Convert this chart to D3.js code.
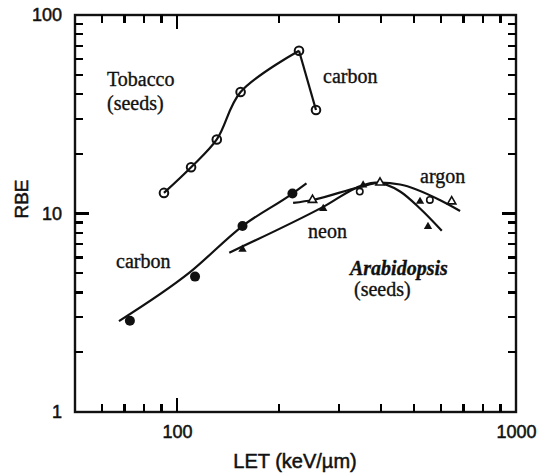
<!DOCTYPE html>
<html>
<head>
<meta charset="utf-8">
<script src="https://cdn.jsdelivr.net/npm/d3@7"></script>
<style>
  body { margin: 0; background: #fff; }
  .tick text { font-family: "Liberation Sans", Arial, sans-serif; font-size: 18px; fill: #111; stroke: #111; stroke-width: 0.5px; }
  .lbl { font-family: "Liberation Serif", "Times New Roman", serif; font-size: 20px; fill: #111; stroke: #111; stroke-width: 0.35px; }
</style>
</head>
<body>
<div id="chart"></div>
<script>
// values (LET in keV/um, RBE)
const tobaccoX = [91.5, 110, 131, 154, 229, 257];
const tobaccoY = [12.7, 17.1, 23.6, 40.9, 66.1, 33.2];

const carbonX = [72.6, 113, 156, 219];
const carbonY = [2.88, 4.81, 8.65, 12.6];
const carbonFitX = [67.4, 109, 156, 219, 241];
const carbonFitY = [2.87, 5.05, 8.65, 12.6, 14.2];

const neonX = [156, 270, 354, 521, 550];
const neonY = [6.6, 10.6, 13.9, 11.5, 8.6];
const neonFitX = [142.6, 270, 354, 384, 455, 521, 604];
const neonFitY = [6.35, 10.8, 13.9, 14.3, 12.9, 10.6, 8.19];

const argonX = [251, 397, 646];
const argonY = [11.7, 14.3, 11.5];
const argonOpenX = [346, 557];
const argonOpenY = [12.9, 11.7];
const argonFitX = [220, 251, 346, 397, 455, 596, 684];
const argonFitY = [11.3, 11.7, 13.6, 14.3, 14.0, 11.7, 10.3];

const xTicks = [60, 70, 80, 90, 100, 200, 300, 400, 500, 600, 700, 800, 900];
const yTicks = [2, 3, 4, 5, 6, 7, 8, 9, 10, 20, 30, 40, 50, 60, 70, 80, 90];
const majorTicks = [1, 10, 100, 1000];

const w = 540, h = 473;
const padL = 75, padR = 516, padT = 15, padB = 412;

const svg = d3.select("#chart").append("svg")
  .attr("width", w)
  .attr("height", h);

const x = d3.scaleLog().domain([50, 1000]).range([padL, padR]);
const y = d3.scaleLog().domain([1, 100]).range([padB, padT]);

// tick labels only from the axes
const xAxis = d3.axisBottom(x).tickValues([100, 1000]).tickSize(0).tickPadding(13).tickFormat(d => String(d));
const yAxis = d3.axisLeft(y).tickValues([1, 10, 100]).tickSize(0).tickPadding(13).tickFormat(d => String(d));

svg.append("g").attr("transform", "translate(0," + padB + ")").call(xAxis)
  .select(".domain").remove();
svg.append("g").attr("transform", "translate(" + padL + ",0)").call(yAxis)
  .select(".domain").remove();

svg.append("rect")
  .attr("x", padL).attr("y", padT)
  .attr("width", padR - padL).attr("height", padB - padT)
  .attr("fill", "none").attr("stroke", "#111").attr("stroke-width", 2.4);

// axis titles
svg.append("text")
  .attr("x", 295).attr("y", 468)
  .attr("text-anchor", "middle")
  .style("font-family", "Liberation Sans, Arial, sans-serif")
  .style("font-size", "20px").attr("fill", "#111")
  .attr("stroke", "#111").attr("stroke-width", 0.5)
  .text("LET (keV/\u00b5m)");

svg.append("text")
  .attr("transform", "translate(28,199) rotate(-90)")
  .attr("text-anchor", "middle")
  .style("font-family", "Liberation Sans, Arial, sans-serif")
  .style("font-size", "19px").attr("fill", "#111")
  .attr("stroke", "#111").attr("stroke-width", 0.5)
  .text("RBE");

// curves
const smooth = d3.line()
  .x(d => x(d[0]))
  .y(d => y(d[1]))
  .curve(d3.curveCatmullRom.alpha(0.5));
const fit = d3.line()
  .x(d => x(d[0]))
  .y(d => y(d[1]))
  .curve(d3.curveMonotoneX);

function drawPath(gen, pts) {
  svg.append("path")
    .datum(pts)
    .attr("d", gen)
    .attr("fill", "none")
    .attr("stroke", "#111")
    .attr("stroke-width", 2.2);
}

const tobacco = d3.zip(tobaccoX, tobaccoY);
drawPath(smooth, tobacco.slice(0, 5));
drawPath(smooth, tobacco.slice(4));
drawPath(fit, d3.zip(carbonFitX, carbonFitY));
drawPath(fit, d3.zip(neonFitX, neonFitY));
drawPath(fit, d3.zip(argonFitX, argonFitY));

// markers
svg.selectAll(".tob").data(tobacco).enter()
  .append("circle").attr("class", "tob")
  .attr("cx", d => x(d[0])).attr("cy", d => y(d[1])).attr("r", 4.3)
  .attr("fill", "none").attr("stroke", "#111").attr("stroke-width", 2);

svg.selectAll(".carb").data(d3.zip(carbonX, carbonY)).enter()
  .append("circle").attr("class", "carb")
  .attr("cx", d => x(d[0])).attr("cy", d => y(d[1])).attr("r", 5)
  .attr("fill", "#111");

const tri = d3.symbol().type(d3.symbolTriangle).size(30);

svg.selectAll(".neon").data(d3.zip(neonX, neonY)).enter()
  .append("path").attr("class", "neon")
  .attr("transform", d => "translate(" + x(d[0]) + "," + y(d[1]) + ")")
  .attr("d", tri)
  .attr("fill", "#111");

svg.selectAll(".argon").data(d3.zip(argonX, argonY)).enter()
  .append("path").attr("class", "argon")
  .attr("transform", d => "translate(" + x(d[0]) + "," + y(d[1]) + ")")
  .attr("d", tri)
  .attr("fill", "#fff").attr("stroke", "#111").attr("stroke-width", 1.6);

svg.selectAll(".argonO").data(d3.zip(argonOpenX, argonOpenY)).enter()
  .append("circle").attr("class", "argonO")
  .attr("cx", d => x(d[0])).attr("cy", d => y(d[1])).attr("r", 3.2)
  .attr("fill", "#fff").attr("stroke", "#111").attr("stroke-width", 1.6);

// in-plot labels
const labels = [
  { t: "Tobacco", x: 107, y: 86 },
  { t: "(seeds)", x: 107, y: 110 },
  { t: "carbon", x: 323, y: 83 },
  { t: "argon", x: 420, y: 183 },
  { t: "neon", x: 308, y: 238 },
  { t: "carbon", x: 116, y: 268 },
  { t: "(seeds)", x: 354, y: 296 }
];
labels.forEach(l => {
  svg.append("text").attr("class", "lbl")
    .attr("x", l.x).attr("y", l.y).text(l.t);
});
svg.append("text").attr("class", "lbl")
  .attr("x", 350).attr("y", 275)
  .style("font-style", "italic").style("font-weight", "bold")
  .text("Arabidopsis");

// inward tick marks on all four sides, drawn last so nothing covers them
const tickLen = d => majorTicks.includes(d) ? 14 : 8;
const tw = 2.4;
const tickG = svg.append("g").style("fill", "#000").style("shape-rendering", "crispEdges");

tickG.selectAll(".tb").data(xTicks).enter().append("rect").attr("class", "tb")
  .attr("x", d => x(d) - tw / 2).attr("y", d => padB - tickLen(d))
  .attr("width", tw).attr("height", d => tickLen(d));
tickG.selectAll(".tt").data(xTicks).enter().append("rect").attr("class", "tt")
  .attr("x", d => x(d) - tw / 2).attr("y", padT)
  .attr("width", tw).attr("height", d => tickLen(d));
tickG.selectAll(".tl").data(yTicks).enter().append("rect").attr("class", "tl")
  .attr("x", padL).attr("y", d => y(d) - tw / 2)
  .attr("width", d => tickLen(d)).attr("height", tw);
tickG.selectAll(".tr").data(yTicks).enter().append("rect").attr("class", "tr")
  .attr("x", d => padR - tickLen(d)).attr("y", d => y(d) - tw / 2)
  .attr("width", d => tickLen(d)).attr("height", tw);
</script>
</body>
</html>
